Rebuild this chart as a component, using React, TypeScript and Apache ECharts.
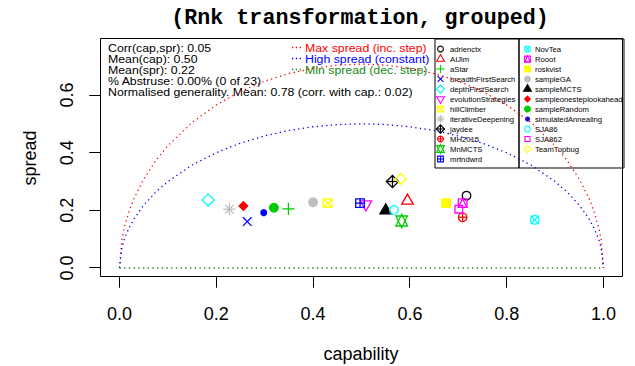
import React, { useEffect, useRef } from "react";
import * as echarts from "echarts";

// ---- data ----
const agents = [
  "adrienctx", "AIJim", "aStar", "breadthFirstSearch", "depthFirstSearch",
  "evolutionStrategies", "hillClimber", "iterativeDeepening", "jaydee", "MH2015",
  "MnMCTS", "mrtndwrd", "NovTea", "Rooot", "roskvist", "sampleGA", "sampleMCTS",
  "sampleonesteplookahead", "sampleRandom", "simulatedAnnealing", "SJA86", "SJA862",
  "TeamTopbug",
];
const capability = [
  0.717, 0.595, 0.349, 0.264, 0.183, 0.509, 0.430, 0.227, 0.564, 0.709, 0.583, 0.497,
  0.858, 0.709, 0.675, 0.400, 0.550, 0.256, 0.319, 0.298, 0.567, 0.701, 0.581,
];
const spread = [
  0.251, 0.233, 0.205, 0.161, 0.236, 0.221, 0.225, 0.204, 0.300, 0.176, 0.163, 0.225,
  0.167, 0.225, 0.225, 0.228, 0.199, 0.215, 0.209, 0.192, 0.201, 0.204, 0.309,
];

// reference curves
const curveCap = [
  0, 0.005, 0.01, 0.02, 0.03, 0.05, 0.075, 0.1, 0.15, 0.2, 0.25, 0.3, 0.35, 0.4, 0.45, 0.5,
  0.55, 0.6, 0.65, 0.7, 0.75, 0.8, 0.85, 0.9, 0.925, 0.95, 0.97, 0.98, 0.99, 0.995, 1,
];
const maxSpread = [
  0, 0.0997, 0.1407, 0.198, 0.2412, 0.3082, 0.3725, 0.4243, 0.505, 0.5657, 0.6124, 0.6481,
  0.6745, 0.6928, 0.7036, 0.7071, 0.7036, 0.6928, 0.6745, 0.6481, 0.6124, 0.5657, 0.505,
  0.4243, 0.3725, 0.3082, 0.2412, 0.198, 0.1407, 0.0997, 0,
];
const highSpread = [
  0, 0.0705, 0.0995, 0.14, 0.1706, 0.2179, 0.2634, 0.3, 0.3571, 0.4, 0.433, 0.4583, 0.477,
  0.4899, 0.4975, 0.5, 0.4975, 0.4899, 0.477, 0.4583, 0.433, 0.4, 0.3571, 0.3, 0.2634,
  0.2179, 0.1706, 0.14, 0.0995, 0.0705, 0,
];
const minCap = [0, 1];
const minSpread = [0, 0];

const xTicks = [0, 0.2, 0.4, 0.6, 0.8, 1.0];
const yTicks = [0, 0.2, 0.4, 0.6];

const statLines = [
  "Corr(cap,spr): 0.05",
  "Mean(cap): 0.50",
  "Mean(spr): 0.22",
  "% Abstruse: 0.00% (0 of 23)",
  "Normalised generality. Mean: 0.78 (corr. with cap.: 0.02)",
];
const refLabels = ["Max spread (inc. step)", "High spread (constant)", "Min spread (dec. step)"];

const titleText = "(Rnk transformation, grouped)";
const xTitle = "capability";
const yTitle = "spread";

// ---- styling / layout ----
const PAL = ["#000000", "#FF0000", "#00CD00", "#0000FF", "#00FFFF", "#FF00FF", "#FFFF00", "#BEBEBE"];
const REF_COLORS = ["#FF0000", "#0000FF", "#138A13"];
const SANS = "'Liberation Sans', Arial, Helvetica, sans-serif";
const MONO = "'Liberation Mono', 'Courier New', monospace";
const BOX_X = [-0.04, 1.04];
const BOX_Y = [-0.0306, 0.7956];
const AX_X = [-0.063, 1.0403];
const AX_Y = [-0.0694, 0.7943];
const TICK_LEN = 11;

function pchShapes(pch: number, col: string, r0: number, lw: number): any[] {
  const st = { stroke: col, fill: "none", lineWidth: lw };
  const fl = { fill: col, stroke: col, lineWidth: lw };
  const L = (x1: number, y1: number, x2: number, y2: number) => ({
    type: "line", shape: { x1, y1, x2, y2 }, style: { stroke: col, lineWidth: lw },
  });
  const C = (r: number, s: any) => ({ type: "circle", shape: { cx: 0, cy: 0, r }, style: { ...s } });
  const R = (h: number, s: any) => ({
    type: "rect", shape: { x: -h, y: -h, width: 2 * h, height: 2 * h }, style: { ...s },
  });
  const P = (pts: number[][], s: any) => ({ type: "polygon", shape: { points: pts }, style: { ...s } });
  const s2 = Math.SQRT2;
  const tr = 1.5551 * r0, tx = 1.3468 * r0, ty = 0.7776 * r0;
  const up = [[0, -tr], [tx, ty], [-tx, ty]];
  const down = [[0, tr], [tx, -ty], [-tx, -ty]];
  const dia = (h: number) => [[0, -h], [h, 0], [0, h], [-h, 0]];
  const a = s2 * r0;
  switch (pch) {
    case 1: return [C(r0, st)];
    case 2: return [P(up, st)];
    case 3: return [L(-a, 0, a, 0), L(0, -a, 0, a)];
    case 4: return [L(-r0, -r0, r0, r0), L(-r0, r0, r0, -r0)];
    case 5: return [P(dia(a), st)];
    case 6: return [P(down, st)];
    case 7: return [R(r0, st), L(-r0, -r0, r0, r0), L(-r0, r0, r0, -r0)];
    case 8: return [L(-a, 0, a, 0), L(0, -a, 0, a), L(-r0, -r0, r0, r0), L(-r0, r0, r0, -r0)];
    case 9: return [P(dia(a), st), L(-a, 0, a, 0), L(0, -a, 0, a)];
    case 10: return [C(r0, st), L(-r0, 0, r0, 0), L(0, -r0, 0, r0)];
    case 11: {
      const yc = 0.5 * (ty + tr);
      return [P([[0, -tr], [tx, yc], [-tx, yc]], st), P([[0, tr], [tx, -yc], [-tx, -yc]], st)];
    }
    case 12: return [R(r0, st), L(-r0, 0, r0, 0), L(0, -r0, 0, r0)];
    case 13: return [C(r0, st), L(-r0, -r0, r0, r0), L(-r0, r0, r0, -r0)];
    case 14: return [R(r0, st), P([[0, -r0], [r0, r0], [-r0, r0]], st)];
    case 15: return [R(r0, fl)];
    case 16: return [C(r0, fl)];
    case 17: return [P(up, fl)];
    case 18: return [P(dia(r0), fl)];
    case 19: return [C(r0, fl)];
    case 20: return [C((r0 * 2) / 3, fl)];
    case 21: return [C(r0, st)];
    case 22: return [R(r0 * 0.8862, st)];
    case 23: return [P(dia(r0 * 1.2533), st)];
    default: return [C(r0, st)];
  }
}

function buildGraphics(): any[] {
  const g: any[] = [];
  g.push({
    type: "text", x: 360, y: 18,
    style: { text: titleText, font: `bold 21.7px ${MONO}`, fill: "#000", align: "center", verticalAlign: "middle" },
  });
  g.push({
    type: "text", x: 361, y: 354,
    style: { text: xTitle, font: `18px ${SANS}`, fill: "#000", align: "center", verticalAlign: "middle" },
  });
  g.push({
    type: "text", x: 30, y: 158, rotation: Math.PI / 2,
    style: { text: yTitle, font: `18px ${SANS}`, fill: "#000", align: "center", verticalAlign: "middle" },
  });
  statLines.forEach((t, i) => {
    g.push({
      type: "text", x: 108, y: 47.5 + i * 11, scaleX: 1.12,
      style: { text: t, font: `11px ${SANS}`, fill: "#000", align: "left", verticalAlign: "middle" },
    });
  });
  refLabels.forEach((t, i) => {
    const y = 47.5 + i * 11;
    g.push({
      type: "line", shape: { x1: 292, y1: y, x2: 302, y2: y },
      style: { stroke: REF_COLORS[i], lineWidth: 1.3, lineDash: [1.3, 2.5] },
    });
    g.push({
      type: "text", x: 305, y, scaleX: 1.12,
      style: { text: t, font: `11px ${SANS}`, fill: REF_COLORS[i], align: "left", verticalAlign: "middle" },
    });
  });
  g.push({ type: "rect", shape: { x: 435, y: 39, width: 84, height: 129 }, style: { fill: "none", stroke: "#000", lineWidth: 1 } });
  g.push({ type: "rect", shape: { x: 519, y: 39, width: 105, height: 129 }, style: { fill: "none", stroke: "#000", lineWidth: 1 } });
  agents.forEach((name, i) => {
    const col = i < 12 ? 0 : 1;
    const row = i < 12 ? i : i - 12;
    const sx = col === 0 ? 440.5 : 527.5;
    const tx = col === 0 ? 450 : 535;
    const y = 49 + row * 10;
    g.push({ type: "group", x: sx, y, children: pchShapes(i + 1, PAL[i % 8], 2.9, 1.1) });
    g.push({
      type: "text", x: tx, y,
      style: { text: name, font: `7.7px ${SANS}`, fill: "#000", align: "left", verticalAlign: "middle" },
    });
  });
  return g;
}

const crisp = (v: number) => Math.round(v - 0.5) + 0.5;

export default function App() {
  const ref = useRef<HTMLDivElement>(null);
  useEffect(() => {
    if (!ref.current) return;
    const chart = echarts.init(ref.current, null, { renderer: "svg" });
    const dotted = (c: string) => ({ color: c, width: 1.3, type: [1.3, 3.4] as any });
    chart.setOption({
      animation: false,
      backgroundColor: "#fff",
      grid: { left: 89, right: 12, top: 39, bottom: 78, show: false },
      xAxis: {
        type: "value", min: AX_X[0], max: AX_X[1], position: "bottom",
        axisLine: { show: false, onZero: false },
        splitLine: { show: false },
        axisTick: { show: false },
        axisLabel: {
          customValues: xTicks, margin: 17, fontSize: 18, lineHeight: 18, color: "#000", fontFamily: SANS,
          formatter: (v: number) => v.toFixed(1),
        },
      },
      yAxis: {
        type: "value", min: AX_Y[0], max: AX_Y[1], position: "left",
        axisLine: { show: false, onZero: false },
        splitLine: { show: false },
        axisTick: { show: false },
        axisLabel: {
          customValues: yTicks, rotate: 90, margin: 13, fontSize: 18, lineHeight: 18, color: "#000", fontFamily: SANS,
          formatter: (v: number) => v.toFixed(1),
        },
      },
      series: [
        // plot box
        {
          type: "custom", z: 1, silent: true,
          data: [[BOX_X[0], BOX_Y[0], BOX_X[1], BOX_Y[1]]],
          encode: { x: [0, 2], y: [1, 3] },
          renderItem: (_p: any, api: any) => {
            const a = api.coord([api.value(0), api.value(1)]);
            const b = api.coord([api.value(2), api.value(3)]);
            const x0 = crisp(a[0]), y1 = crisp(a[1]), x1 = crisp(b[0]), y0 = crisp(b[1]);
            return {
              type: "rect",
              shape: { x: x0, y: y0, width: x1 - x0, height: y1 - y0 },
              style: { fill: "none", stroke: "#000", lineWidth: 1 },
            };
          },
        },
        {
          type: "line", data: curveCap.map((c, i) => [c, maxSpread[i]]), symbol: "none",
          lineStyle: dotted(REF_COLORS[0]), z: 2, silent: true,
        },
        {
          type: "line", data: curveCap.map((c, i) => [c, highSpread[i]]), symbol: "none",
          lineStyle: dotted(REF_COLORS[1]), z: 2, silent: true,
        },
        {
          type: "line", data: minCap.map((c, i) => [c, minSpread[i]]), symbol: "none",
          lineStyle: dotted(REF_COLORS[2]), z: 2, silent: true,
        },
        {
          type: "custom", z: 5,
          data: capability.map((c, i) => [c, spread[i]]),
          renderItem: (params: any, api: any) => {
            const p = api.coord([api.value(0), api.value(1)]);
            const i = params.dataIndex;
            return { type: "group", x: p[0], y: p[1], children: pchShapes(i + 1, PAL[i % 8], 4.3, 1.3) };
          },
        },
        // R-style outward ticks on the x axis (group of a rect-thin tick, same pattern as the symbols)
        {
          type: "custom", z: 5,
          data: xTicks.map((v) => [v, BOX_Y[0]]),
          renderItem: (_params: any, api: any) => {
            const p = api.coord([api.value(0), api.value(1)]);
            return {
              type: "group", x: crisp(p[0]), y: crisp(p[1]),
              children: [
                { type: "line", shape: { x1: 0, y1: 0, x2: 0, y2: TICK_LEN }, style: { stroke: "#000", lineWidth: 1 } },
                { type: "rect", shape: { x: -0.5, y: 0, width: 1, height: TICK_LEN }, style: { fill: "#000", stroke: "none" } },
              ],
            };
          },
        },
        // R-style outward ticks on the y axis
        {
          type: "custom", z: 5,
          data: yTicks.map((v) => [BOX_X[0], v]),
          renderItem: (_params: any, api: any) => {
            const p = api.coord([api.value(0), api.value(1)]);
            return {
              type: "group", x: crisp(p[0]), y: crisp(p[1]),
              children: [
                { type: "line", shape: { x1: -TICK_LEN, y1: 0, x2: 0, y2: 0 }, style: { stroke: "#000", lineWidth: 1 } },
                { type: "rect", shape: { x: -TICK_LEN, y: -0.5, width: TICK_LEN, height: 1 }, style: { fill: "#000", stroke: "none" } },
              ],
            };
          },
        },
      ],
      graphic: buildGraphics(),
    });
    return () => chart.dispose();
  }, []);
  return (
    <div
      ref={ref}
      style={{ position: "absolute", left: 0, top: 0, width: 635, height: 366, background: "#fff" }}
    />
  );
}
